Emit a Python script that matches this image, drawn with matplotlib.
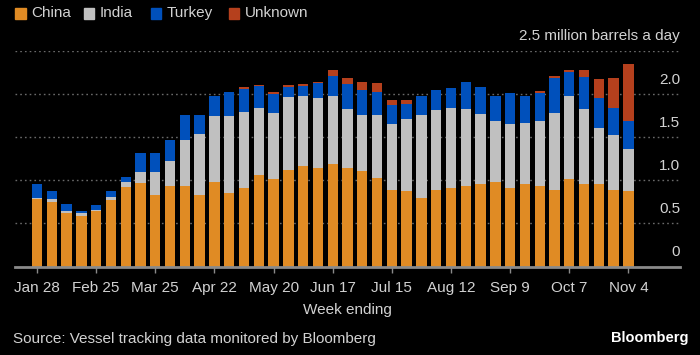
import matplotlib.pyplot as plt
from matplotlib.patches import Rectangle

# weekly Russian crude flows by destination, million barrels a day
china = [0.78, 0.75, 0.62, 0.59, 0.65, 0.77, 0.92, 0.97, 0.83, 0.93, 0.93, 0.83, 0.98, 0.85,
         0.91, 1.06, 1.01, 1.12, 1.17, 1.14, 1.19, 1.14, 1.11, 1.03, 0.89, 0.87, 0.80, 0.89,
         0.91, 0.93, 0.96, 0.98, 0.91, 0.96, 0.93, 0.89, 1.01, 0.96, 0.96, 0.89, 0.87]
india = [0.02, 0.03, 0.02, 0.03, 0.005, 0.04, 0.06, 0.13, 0.27, 0.29, 0.53, 0.71, 0.76, 0.89,
         0.88, 0.78, 0.77, 0.84, 0.80, 0.81, 0.78, 0.69, 0.64, 0.72, 0.76, 0.84, 0.96, 0.92,
         0.93, 0.90, 0.81, 0.70, 0.74, 0.70, 0.75, 0.89, 0.96, 0.86, 0.65, 0.63, 0.49]
turkey = [0.16, 0.10, 0.09, 0.02, 0.06, 0.06, 0.06, 0.22, 0.22, 0.25, 0.29, 0.21, 0.23, 0.28,
          0.27, 0.25, 0.22, 0.12, 0.12, 0.17, 0.24, 0.28, 0.29, 0.27, 0.22, 0.17, 0.22, 0.23,
          0.23, 0.31, 0.31, 0.30, 0.36, 0.32, 0.33, 0.40, 0.28, 0.38, 0.34, 0.32, 0.32]
unknown = [0, 0, 0, 0, 0, 0, 0, 0, 0, 0, 0, 0, 0, 0,
           0.02, 0.01, 0.02, 0.02, 0.02, 0.02, 0.07, 0.07, 0.10, 0.11, 0.06, 0.05, 0, 0,
           0, 0, 0, 0, 0, 0, 0.02, 0.03, 0.03, 0.07, 0.22, 0.34, 0.66]

date_labels = ["Jan 28", "Feb 25", "Mar 25", "Apr 22", "May 20", "Jun 17",
               "Jul 15", "Aug 12", "Sep 9", "Oct 7", "Nov 4"]
y_ticks = [0, 0.5, 1.0, 1.5, 2.0]
y_tick_labels = ["0", "0.5", "1.0", "1.5", "2.0"]

colors = {"China": "#e08b24", "India": "#c0c0c0", "Turkey": "#0050bb", "Unknown": "#b5401d"}
txt = "#d2d2d2"
grid_c = "#6a6a6a"

plt.rcParams['font.family'] = ['Liberation Sans', 'DejaVu Sans']

W, H = 700, 355
fig = plt.figure(figsize=(7, 3.55), dpi=100, facecolor="black")
ax = fig.add_axes([15 / W, (H - 266.7) / H, 665 / W, 216.1 / H])
ax.set_facecolor("black")

x = list(range(len(china)))
w = 0.7
bottom = [0.0] * len(x)
for name, vals in [("China", china), ("India", india), ("Turkey", turkey), ("Unknown", unknown)]:
    ax.bar(x, vals, width=w, bottom=bottom, color=colors[name], linewidth=0)
    bottom = [b + v for b, v in zip(bottom, vals)]

ax.set_xlim(-1.49, 43.49)
ax.set_ylim(0, 2.5)

# dotted gridlines incl. the top one at 2.5
for v in [0.5, 1.0, 1.5, 2.0, 2.5]:
    ax.axhline(v, color=grid_c, linestyle=(0, (1.2, 2.2)), linewidth=1, zorder=0)

for v, lab in zip(y_ticks, y_tick_labels):
    ax.text(43.49, v + 0.165, lab, color=txt, fontsize=11, ha="right", va="center")
ax.text(43.49, 2.5 + 0.17, "2.5 million barrels a day", color=txt, fontsize=11,
        ha="right", va="center")

for s in ["top", "left", "right"]:
    ax.spines[s].set_visible(False)
ax.spines["bottom"].set_color("#8a8a8a")
ax.spines["bottom"].set_linewidth(2)
ax.set_yticks([])
ax.set_xticks(range(0, 41, 4))
ax.set_xticklabels(date_labels)
ax.tick_params(axis="x", colors="#8a8a8a", length=4, width=1, labelcolor=txt,
               labelsize=11, pad=6)
ax.set_xlabel("Week ending", color=txt, fontsize=11, labelpad=6)

# legend drawn by hand: small tall squares + labels
leg_x = [15.5, 84, 151, 229]
for lx, (name, c) in zip(leg_x, colors.items()):
    fig.patches.append(Rectangle((lx / W, 1 - 18.5 / H), 10 / W, 11 / H, color=c,
                                 transform=fig.transFigure, figure=fig))
    fig.text((lx + 16) / W, 1 - 13 / H, name, color=txt, fontsize=11, ha="left", va="center")

fig.text(13 / W, 1 - 339 / H, "Source: Vessel tracking data monitored by Bloomberg",
         color=txt, fontsize=11, ha="left", va="center")
fig.text(688 / W, 1 - 338 / H, "Bloomberg", color="white", fontsize=10.5,
         fontweight="bold", ha="right", va="center")

fig.savefig("out.png", dpi=100, facecolor="black")
